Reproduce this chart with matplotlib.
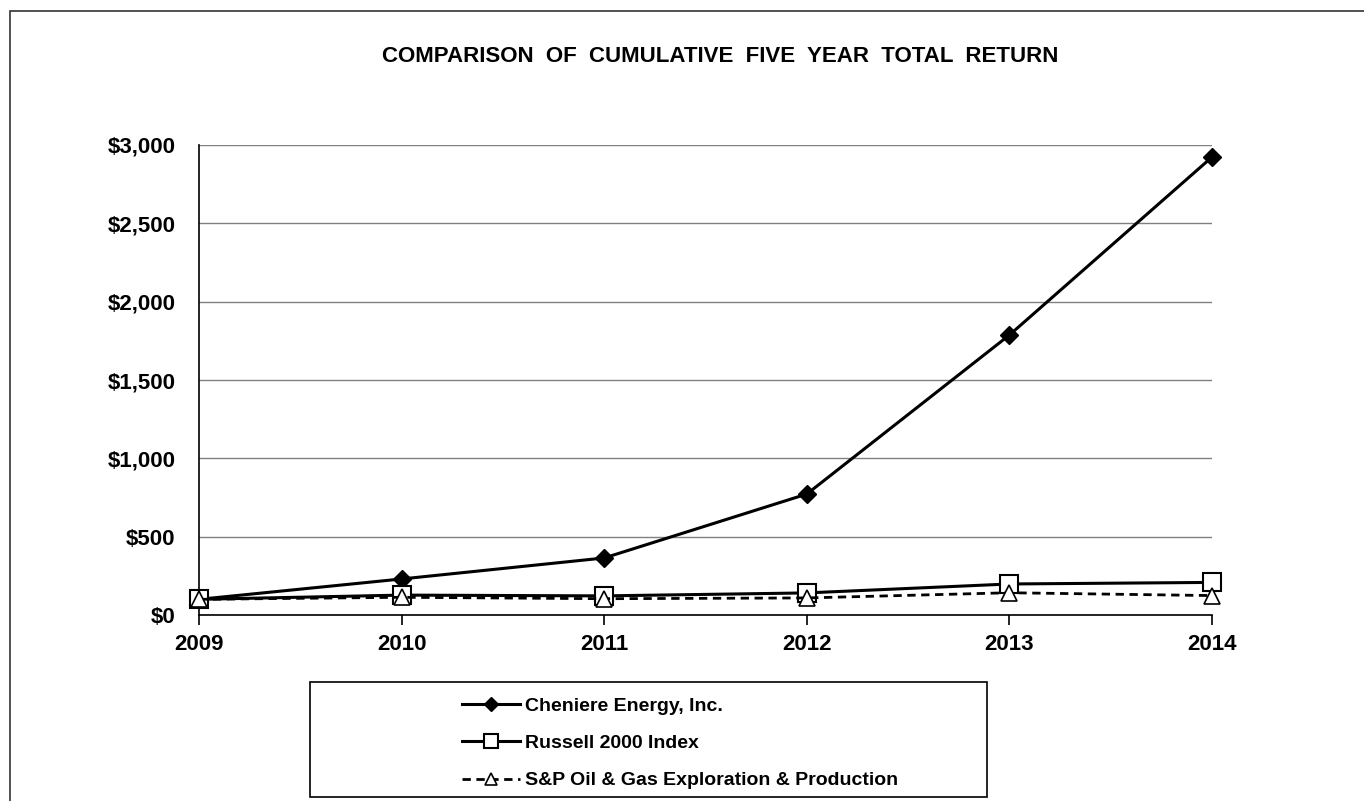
import matplotlib
matplotlib.use("Agg")
import matplotlib.pyplot as plt
from matplotlib.patches import Rectangle
from matplotlib.ticker import FuncFormatter

years = [2009, 2010, 2011, 2012, 2013, 2014]
cheniere = [100, 230, 364, 772, 1787, 2923]
russell = [100, 127, 122, 141, 198, 208]
sp_ep = [100, 113, 104, 109, 142, 124]
series_names = ["Cheniere Energy, Inc.", "Russell 2000 Index",
                "S&P Oil & Gas Exploration & Production"]
y_ticks = [0, 500, 1000, 1500, 2000, 2500, 3000]
title = "COMPARISON  OF  CUMULATIVE  FIVE  YEAR  TOTAL  RETURN"

plt.rcParams['font.family'] = ['Liberation Sans', 'DejaVu Sans']

W, H = 1364, 801
fig = plt.figure(figsize=(W / 100, H / 100), dpi=100)
fig.patch.set_facecolor('white')

# outer border
fig.patches.append(Rectangle((10 / W, -0.1), 1.2, 1 - 11 / H + 0.1,
                             transform=fig.transFigure, fill=False,
                             edgecolor='#333333', linewidth=1.2))

x0, x1 = 199, 1212
y_top, y_bot = 145, 615
ax = fig.add_axes([x0 / W, 1 - y_bot / H, (x1 - x0) / W, (y_bot - y_top) / H])
ax.set_facecolor('none')

ax.plot(years, cheniere, color='black', lw=2.2, marker='D', markersize=9,
        markerfacecolor='black', markeredgecolor='black', zorder=3,
        clip_on=False, label=series_names[0])
ax.plot(years, russell, color='black', lw=2.2, marker='s', markersize=13,
        markerfacecolor='white', markeredgecolor='black', markeredgewidth=1.5,
        zorder=4, clip_on=False, label=series_names[1])
ax.plot(years, sp_ep, color='black', lw=2.0, ls=(0, (3, 2)), marker='^',
        markersize=11, markerfacecolor='white', markeredgecolor='black',
        markeredgewidth=1.2, zorder=5, clip_on=False, label=series_names[2])

ax.set_xlim(years[0], years[-1])
ax.set_ylim(0, 3000)
ax.set_yticks(y_ticks)
ax.yaxis.set_major_formatter(FuncFormatter(lambda v, p: "${:,.0f}".format(v)))
ax.set_xticks(years)
ax.grid(axis='y', color='#808080', lw=1.0)
ax.set_axisbelow(True)
for s in ['right', 'top']:
    ax.spines[s].set_visible(False)
ax.spines['left'].set_linewidth(1.2)
ax.spines['bottom'].set_linewidth(1.2)
ax.tick_params(axis='y', length=0, pad=17, labelsize=16)
ax.tick_params(axis='x', length=7, width=1.2, direction='out', pad=7, labelsize=16)
for lab in ax.get_xticklabels() + ax.get_yticklabels():
    lab.set_fontweight('bold')

fig.text(720 / W, 1 - 57 / H, title, ha='center', va='center',
         fontsize=16, fontweight='bold')

# legend box
fig.patches.append(Rectangle((310 / W, 1 - 797 / H), (987 - 310) / W,
                             (797 - 682) / H, transform=fig.transFigure,
                             fill=False, edgecolor='black', linewidth=1.2))
handles, labels = ax.get_legend_handles_labels()
leg = fig.legend(handles, labels, loc='upper left',
                 bbox_to_anchor=(448 / W, 1 - 684 / H), frameon=False,
                 fontsize=14, handlelength=3.0, handletextpad=0.25,
                 labelspacing=1.0, borderpad=0.2, markerscale=0.75)
for t in leg.get_texts():
    t.set_fontweight('bold')

fig.savefig('out.png', dpi=100, facecolor='white')
